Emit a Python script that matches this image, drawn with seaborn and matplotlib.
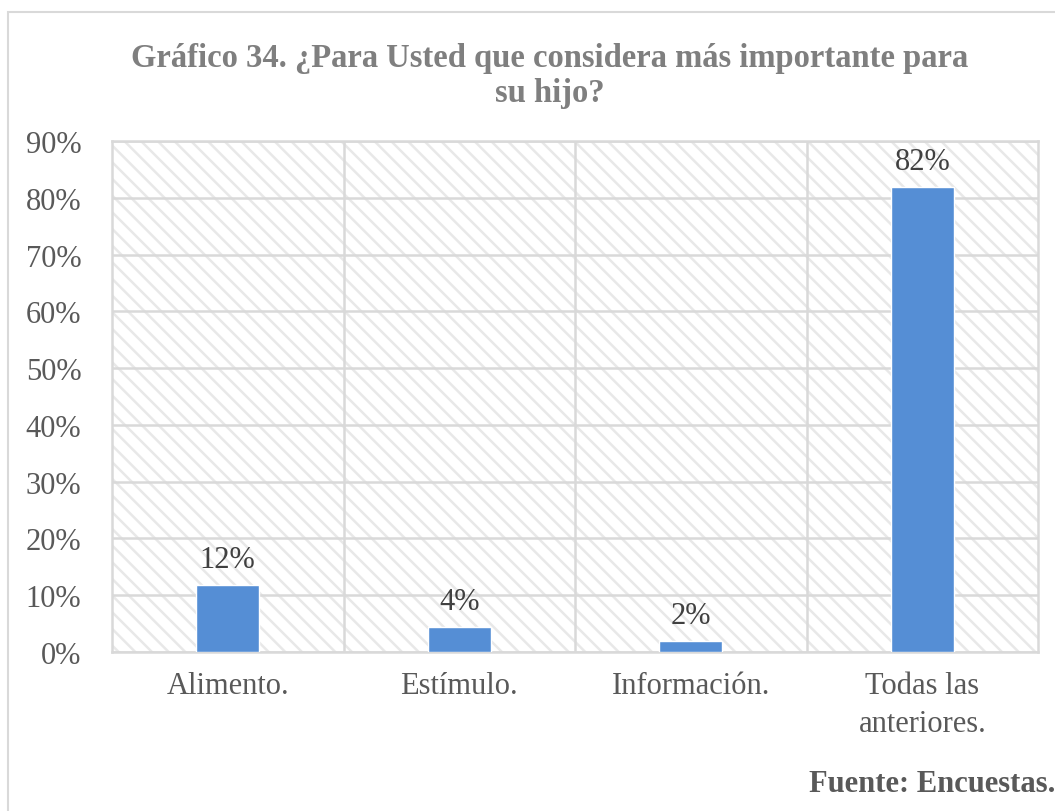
import matplotlib
matplotlib.use("Agg")
import matplotlib.pyplot as plt
from matplotlib.patches import Rectangle
from matplotlib.ticker import MultipleLocator, PercentFormatter
import seaborn as sns
import pandas as pd

categories = ["Alimento.", "Estímulo.", "Información.", "Todas las\nanteriores."]
shares = [0.118, 0.044, 0.019, 0.819]
title = "Gráfico 34. ¿Para Usted que considera más importante para\nsu hijo?"
source = "Fuente: Encuestas."

df = pd.DataFrame({"categoria": categories, "valor": shares})

sns.set_theme(style="white")
plt.rcParams["font.family"] = ["Liberation Serif", "DejaVu Serif"]
plt.rcParams["hatch.linewidth"] = 1.8

fig = plt.figure(figsize=(10.55, 8.12), dpi=100)
ax = fig.add_axes([112 / 1055, 1 - 653 / 812, (1038 - 112) / 1055, (653 - 142) / 812])

# outer chart frame
fig.patches.append(Rectangle((8 / 1055, -0.05), 1.2, 1 - 13 / 812 + 0.05,
                             transform=fig.transFigure, fill=False,
                             edgecolor="#d9d9d9", lw=1.5, zorder=0))

# hatched plot background
ax.add_patch(Rectangle((0, 0), 1, 1, transform=ax.transAxes, facecolor="white",
                       edgecolor="#e8e8e8", hatch="\\\\", lw=0, zorder=0))

sns.barplot(data=df, x="categoria", y="valor", color="#558ed5", width=0.27,
            saturation=1, ax=ax, zorder=3)

ax.set_ylim(0, 0.9)
ax.set_xlim(-0.5, len(categories) - 0.5)
ax.yaxis.set_major_locator(MultipleLocator(0.1))
ax.yaxis.set_major_formatter(PercentFormatter(1.0, decimals=0))
ax.set_xticks(range(len(categories)), minor=False)
ax.set_xticks([i + 0.5 for i in range(len(categories) - 1)], minor=True)
ax.grid(True, axis="y", which="major", color="#d9d9d9", lw=1.8, zorder=1)
ax.grid(True, axis="x", which="minor", color="#d9d9d9", lw=1.8, zorder=1)
ax.grid(False, axis="x", which="major")
ax.set_axisbelow(True)
for s in ax.spines.values():
    s.set_color("#d9d9d9")
    s.set_linewidth(1.8)
ax.tick_params(axis="both", which="both", length=0, labelsize=22, colors="#595959")
ax.tick_params(axis="x", pad=14)
ax.tick_params(axis="y", pad=22)
for lbl in ax.get_xticklabels():
    lbl.set_linespacing(1.4)
ax.set_xlabel("")
ax.set_ylabel("")

for i, v in enumerate(shares):
    ax.annotate(f"{round(v * 100):.0f}%", (i, v), xytext=(0, 8),
                textcoords="offset points", ha="center", va="bottom",
                fontsize=22, color="#404040", zorder=4)

fig.text(550 / 1055, 1 - 76 / 812, title, ha="center", va="center",
         fontsize=23.5, fontweight="bold", color="#7f7f7f", linespacing=1.2)
fig.text(1.0, 1 - 785 / 812, source, ha="right", va="center",
         fontsize=22, fontweight="bold", color="#595959")

fig.savefig("out.png", dpi=100)
